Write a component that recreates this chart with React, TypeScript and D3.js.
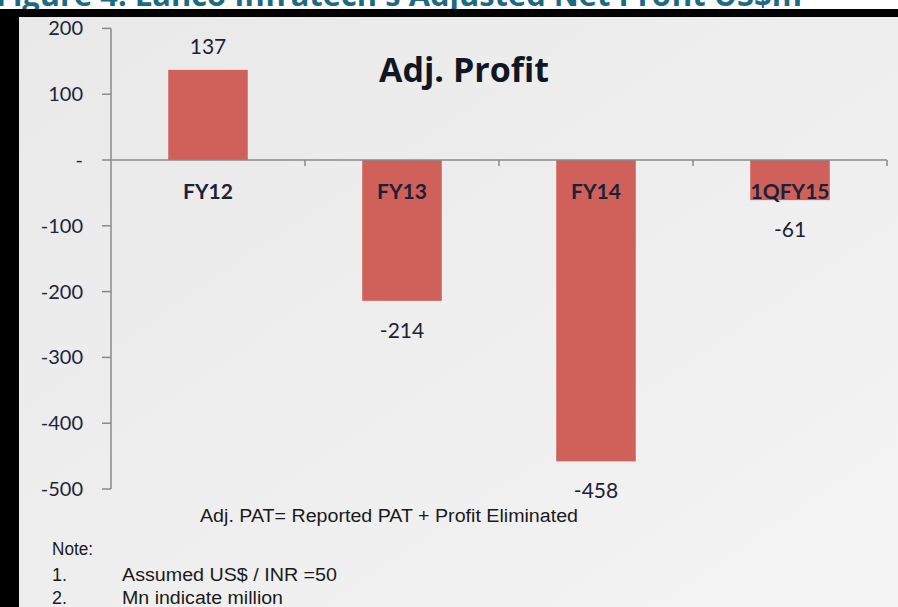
import React from "react";
import * as d3 from "d3";

const categories = ["FY12", "FY13", "FY14", "1QFY15"];
const values = [137, -214, -458, -61];
const yTicks = [200, 100, 0, -100, -200, -300, -400, -500];
const yTickLabels = ["200", "100", "-", "-100", "-200", "-300", "-400", "-500"];
const chartTitle = "Adj. Profit";
const figureTitle = "Figure 4: Lanco Infratech's Adjusted Net Profit US$m";
const formulaNote = "Adj. PAT= Reported PAT + Profit Eliminated";
const notes = ["Assumed US$ / INR =50", "Mn indicate million"];

const W = 898;
const H = 607;

export default function App() {
  const y = d3.scaleLinear().domain([-500, 200]).range([489, 28.4]);
  const x = d3.scaleBand<string>().domain(categories).range([111, 887]).paddingInner(0.59).paddingOuter(0.295);
  const band = (887 - 111) / categories.length;
  const boundaries = d3.range(categories.length + 1).map((i) => 111 + i * band);
  const catFont = "Lato, 'Open Sans', sans-serif";
  const noteFont = "'Liberation Sans', Arial, sans-serif";
  const textCol = "#1c2236";
  const noteWidths = [215, 161];

  return (
    <svg width={W} height={H} style={{ position: "absolute", left: 0, top: 0 }} xmlns="http://www.w3.org/2000/svg">
      <defs>
        <linearGradient id="bg" x1="0" y1="0" x2="1" y2="1">
          <stop offset="0" stopColor="#e9e9e9" />
          <stop offset="0.5" stopColor="#eeeeee" />
          <stop offset="1" stopColor="#f4f4f4" />
        </linearGradient>
      </defs>
      <rect x={0} y={0} width={W} height={H} fill="#ffffff" />
      <text x={-4} y={6} fill="#1d6b83" fontFamily="'Open Sans', sans-serif" fontWeight={700} fontSize={30} textLength={806} lengthAdjust="spacingAndGlyphs">
        {figureTitle}
      </text>
      <rect x={0} y={9} width={W} height={H - 9} fill="#000" />
      <rect x={19} y={17} width={W - 19} height={H - 17} fill="url(#bg)" />

      {/* y axis */}
      <line x1={111} x2={111} y1={y(200)} y2={y(-500)} stroke="#8a8a8a" strokeWidth={1.5} />
      {yTicks.map((t, i) => (
        <g key={t}>
          <line x1={102} x2={111} y1={y(t)} y2={y(t)} stroke="#8a8a8a" strokeWidth={1.5} />
          <text
            x={83}
            y={y(t)}
            dy="0.35em"
            textAnchor="end"
            fontFamily={catFont}
            fontSize={20}
            fill="#1b2540"
          >
            {yTickLabels[i]}
          </text>
        </g>
      ))}

      {/* bars */}
      {categories.map((c, i) => {
        const v = values[i];
        return (
          <rect
            key={c}
            x={x(c)}
            width={x.bandwidth()}
            y={y(Math.max(0, v))}
            height={Math.abs(y(v) - y(0))}
            fill="#cf605a"
          />
        );
      })}

      {/* x axis */}
      <line x1={111} x2={887} y1={y(0)} y2={y(0)} stroke="#8a8a8a" strokeWidth={1.5} />
      {boundaries.slice(1).map((b, i) => (
        <line key={i} x1={b} x2={b} y1={y(0)} y2={y(0) + 6} stroke="#8a8a8a" strokeWidth={1.5} />
      ))}

      {/* category labels */}
      {categories.map((c) => (
        <text
          key={c}
          x={(x(c) as number) + x.bandwidth() / 2}
          y={y(0) + 39}
          textAnchor="middle"
          fontFamily={catFont}
          fontWeight={700}
          fontSize={21}
          fill={textCol}
        >
          {c}
        </text>
      ))}

      {/* value labels */}
      {categories.map((c, i) => {
        const v = values[i];
        const cx = (x(c) as number) + x.bandwidth() / 2;
        const ly = v >= 0 ? y(v) - 16 : y(v) + 37;
        return (
          <text key={c} x={cx} y={ly} textAnchor="middle" fontFamily={catFont} fontSize={21} fill={textCol}>
            {String(v)}
          </text>
        );
      })}

      <text x={464} y={82} textAnchor="middle" fontFamily="'Open Sans', sans-serif" fontWeight={700} fontSize={34} fill="#111722">
        {chartTitle}
      </text>

      <text x={200} y={522} fontFamily={noteFont} fontSize={18} fill="#1a1a1a" textLength={378} lengthAdjust="spacingAndGlyphs">
        {formulaNote}
      </text>
      <text x={52} y={555} fontFamily={noteFont} fontSize={18} fill="#1a1a1a" textLength={41} lengthAdjust="spacingAndGlyphs">
        Note:
      </text>
      {notes.map((n, i) => (
        <g key={n}>
          <text x={52} y={581 + i * 23} fontFamily={noteFont} fontSize={18} fill="#1a1a1a">
            {`${i + 1}.`}
          </text>
          <text x={122} y={581 + i * 23} fontFamily={noteFont} fontSize={18} fill="#1a1a1a" textLength={noteWidths[i]} lengthAdjust="spacingAndGlyphs">
            {n}
          </text>
        </g>
      ))}
    </svg>
  );
}
